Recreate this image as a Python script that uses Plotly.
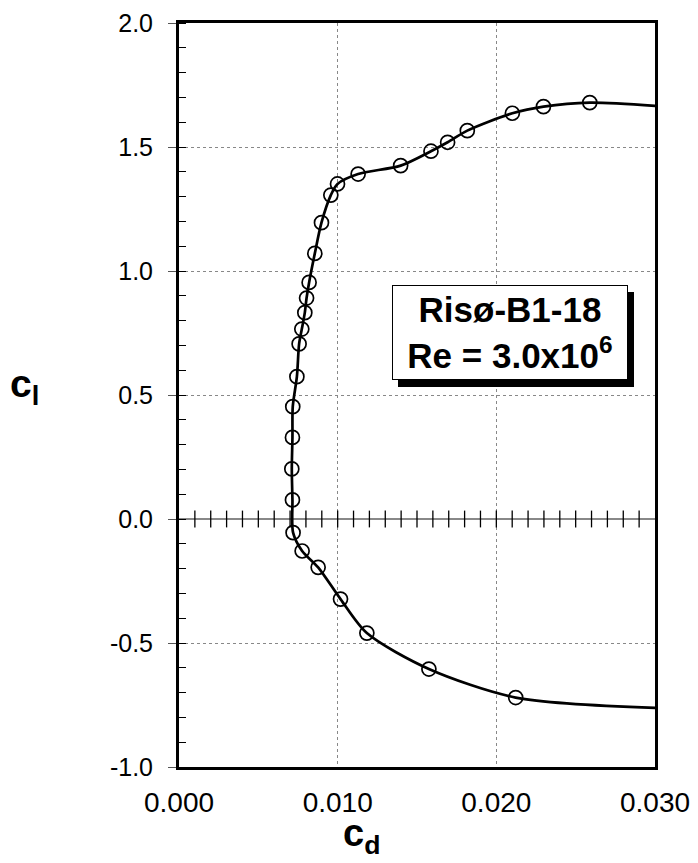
import numpy as np
import plotly.graph_objects as go

# Measured polar points (c_d, c_l), ordered along the curve
cd_meas = [0.02122, 0.01575, 0.01184, 0.01018, 0.00877, 0.00776, 0.00719,
           0.00715, 0.00711, 0.00715, 0.00717, 0.00743, 0.00757, 0.00774,
           0.00793, 0.00804, 0.00820, 0.00856, 0.00898, 0.00957, 0.00999,
           0.01129, 0.01397, 0.01588, 0.01693, 0.01817, 0.02101, 0.02297, 0.02589]
cl_meas = [-0.720, -0.605, -0.460, -0.323, -0.195, -0.129, -0.055,
           0.077, 0.202, 0.329, 0.453, 0.574, 0.706, 0.766,
           0.832, 0.891, 0.954, 1.071, 1.195, 1.306, 1.351,
           1.391, 1.425, 1.483, 1.519, 1.566, 1.636, 1.663, 1.679]

# Curve continuation beyond the plotted range (line only)
cd_low_end, cl_low_end = [0.0302], [-0.762]
cd_high_end, cl_high_end = [0.0302], [1.665]

x_ticks = [0.000, 0.010, 0.020, 0.030]
x_ticklabels = ["0.000", "0.010", "0.020", "0.030"]
y_ticks = [-1.0, -0.5, 0.0, 0.5, 1.0, 1.5, 2.0]
y_ticklabels = ["-1.0", "-0.5", "0.0", "0.5", "1.0", "1.5", "2.0"]

FONT = "Liberation Sans, Arial, sans-serif"

# page body has an 8px margin: plot area target x 179..655, y 23..767 in window
W, H = 690, 855
ML, MR, MT, MB = 171, 43, 15, 96
PW, PH = W - ML - MR, H - MT - MB

fig = go.Figure()

# cross ticks along the zero line
zero_tick_x = np.round(np.arange(0.001, 0.030, 0.001), 4)
fig.add_trace(go.Scatter(
    x=zero_tick_x, y=np.zeros_like(zero_tick_x), mode="markers",
    marker=dict(symbol="line-ns", size=12, line=dict(color="black", width=1.3)),
    hoverinfo="skip", showlegend=False, cliponaxis=False))

# smooth curve
fig.add_trace(go.Scatter(
    x=cd_low_end + cd_meas + cd_high_end,
    y=cl_low_end + cl_meas + cl_high_end,
    mode="lines", line=dict(color="black", width=2.7, shape="spline", smoothing=0.8),
    showlegend=False))

# measured points
fig.add_trace(go.Scatter(
    x=cd_meas, y=cl_meas, mode="markers",
    marker=dict(symbol="circle-open", size=14, color="black", line=dict(width=1.7)),
    showlegend=False))

fig.update_xaxes(
    range=[0, 0.030], tickvals=x_ticks, ticktext=x_ticklabels,
    showline=True, mirror=True, linewidth=3, linecolor="black",
    showgrid=True, gridcolor="#888888", gridwidth=1, griddash="dot",
    ticks="", zeroline=False, ticklabelstandoff=8, automargin=False,
    tickfont=dict(family=FONT, size=28, color="black"))
fig.update_yaxes(
    range=[-1.0, 2.0], tickvals=y_ticks, ticktext=y_ticklabels,
    showline=True, mirror=True, linewidth=3, linecolor="black",
    showgrid=True, gridcolor="#888888", gridwidth=1, griddash="dot",
    ticks="outside", ticklen=8, tickwidth=1, tickcolor="#555555",
    ticklabelstandoff=10, automargin=False,
    minor=dict(ticks="inside", dtick=0.1, tick0=0, ticklen=7, tickwidth=1, tickcolor="black", showgrid=False),
    zeroline=True, zerolinecolor="#888888", zerolinewidth=2,
    tickfont=dict(family=FONT, size=25, color="black"))

# text box (window px 392..628, 285..380) with drop shadow
bx0, bx1 = (392 - 179) / PW, (628 - 179) / PW
by0, by1 = (767 - 380) / PH, (767 - 285) / PH
fig.add_shape(type="rect", xref="paper", yref="paper",
              x0=bx0 + 6 / PW, x1=bx1 + 6 / PW,
              y0=by0 - 7 / PH, y1=by1 - 7 / PH,
              fillcolor="black", line=dict(width=0), layer="above")
fig.add_annotation(xref="paper", yref="paper",
                   x=(bx0 + bx1) / 2, y=(by0 + by1) / 2,
                   xanchor="center", yanchor="middle",
                   width=234, height=93, borderpad=0,
                   bgcolor="white", bordercolor="black", borderwidth=1,
                   text="<b>Risø-B1-18</b><br><b>Re = 3.0x10<sup>6</sup></b>",
                   showarrow=False, align="center", valign="middle",
                   font=dict(family=FONT, size=35, color="black"))

# axis titles
fig.add_annotation(xref="paper", yref="paper", x=(8 - 179) / PW, y=(767 - 386) / PH,
                   xanchor="left", yanchor="middle",
                   text="<b>c<sub>l</sub></b>", showarrow=False,
                   font=dict(family=FONT, size=39, color="black"))
fig.add_annotation(xref="paper", yref="paper", x=(361 - 179) / PW, y=(767 - 810) / PH,
                   xanchor="center", yanchor="top",
                   text="<b>c<sub>d</sub></b>", showarrow=False,
                   font=dict(family=FONT, size=38, color="black"))

fig.update_layout(
    width=W, height=H,
    margin=dict(l=ML, r=MR, t=MT, b=MB, autoexpand=False),
    paper_bgcolor="white", plot_bgcolor="white",
    showlegend=False)

fig.write_html("out.html")
